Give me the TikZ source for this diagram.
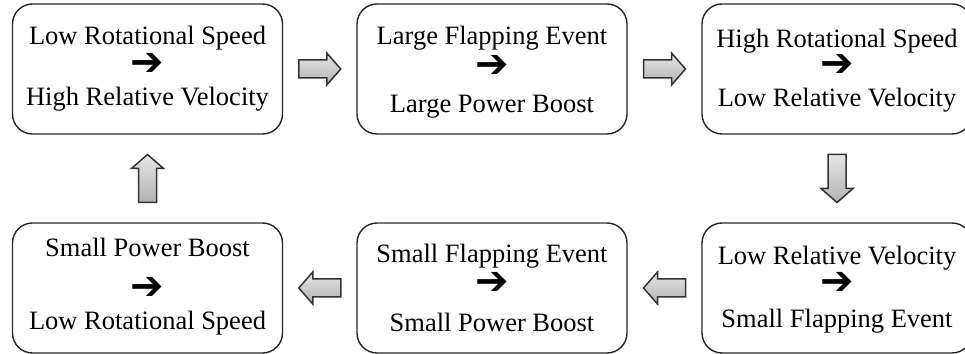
\documentclass[tikz,border=0pt]{standalone}
\usepackage{fontspec}
\setmainfont{Liberation Serif}
\newfontfamily\symfont{DejaVu Sans}
\usetikzlibrary{calc}
\tikzset{
  x=1pt, y=1pt,
  box/.style={draw=black!85, line width=1.4pt, rounded corners=20pt,
    minimum width=270pt, minimum height=130pt, inner sep=0pt},
  txt/.style={anchor=base, inner sep=0pt, font=\fontsize{26.5}{30}\selectfont},
  sym/.style={anchor=center, inner sep=0pt, font=\symfont\fontsize{40}{40}\selectfont},
  barrow/.style={draw=black!80, line width=1.5pt, line join=miter,
    top color=gray!20, bottom color=gray!60}
}
\newcommand\cell[8]{%
  \node[box] (#1) at (#2,#3) {};
  \node[txt] (#1a) at ($(#1.north)+(0,-#6)$) {#4};
  \node[sym] (#1b) at ($(#1.north)+(0,-#7)$) {➔};
  \node[txt] (#1c) at ($(#1.north)+(0,-#8)$) {#5};}
\newcommand\blockarr[3]{%
  \path[barrow, shift={#1}, rotate=#2]
    (-#3/2,-9) -- (#3/2-14,-9) -- (#3/2-14,-16) -- (#3/2,0) --
    (#3/2-14,16) -- (#3/2-14,9) -- (-#3/2,9) -- cycle;}
\begin{document}
\begin{tikzpicture}
\useasboundingbox (0,0) rectangle (965,353);
\cell{b1}{147.5}{284}{Low Rotational Speed}{High Relative Velocity}{41}{61}{102}
\cell{b2}{492}{284}{Large Flapping Event}{Large Power Boost}{41}{63}{109}
\cell{b3}{837}{284}{High Rotational Speed}{Low Relative Velocity}{44}{62}{103}
\cell{b4}{837}{65}{Low Relative Velocity}{Small Flapping Event}{42}{61}{105}
\cell{b5}{492}{65}{Small Flapping Event}{Small Power Boost}{40}{61}{109}
\cell{b6}{147.5}{65}{Small Power Boost}{Low Rotational Speed}{34}{66}{107}
\blockarr{($(b1.east)!0.5!(b2.west)$)}{0}{42}
\blockarr{($(b2.east)!0.5!(b3.west)$)}{0}{42}
\blockarr{($(b3.south)!0.5!(b4.north)$)}{-90}{48}
\blockarr{($(b4.west)!0.5!(b5.east)$)}{180}{42}
\blockarr{($(b5.west)!0.5!(b6.east)$)}{180}{42}
\blockarr{($(b6.north)!0.5!(b1.south)$)}{90}{48}
\end{tikzpicture}
\end{document}
